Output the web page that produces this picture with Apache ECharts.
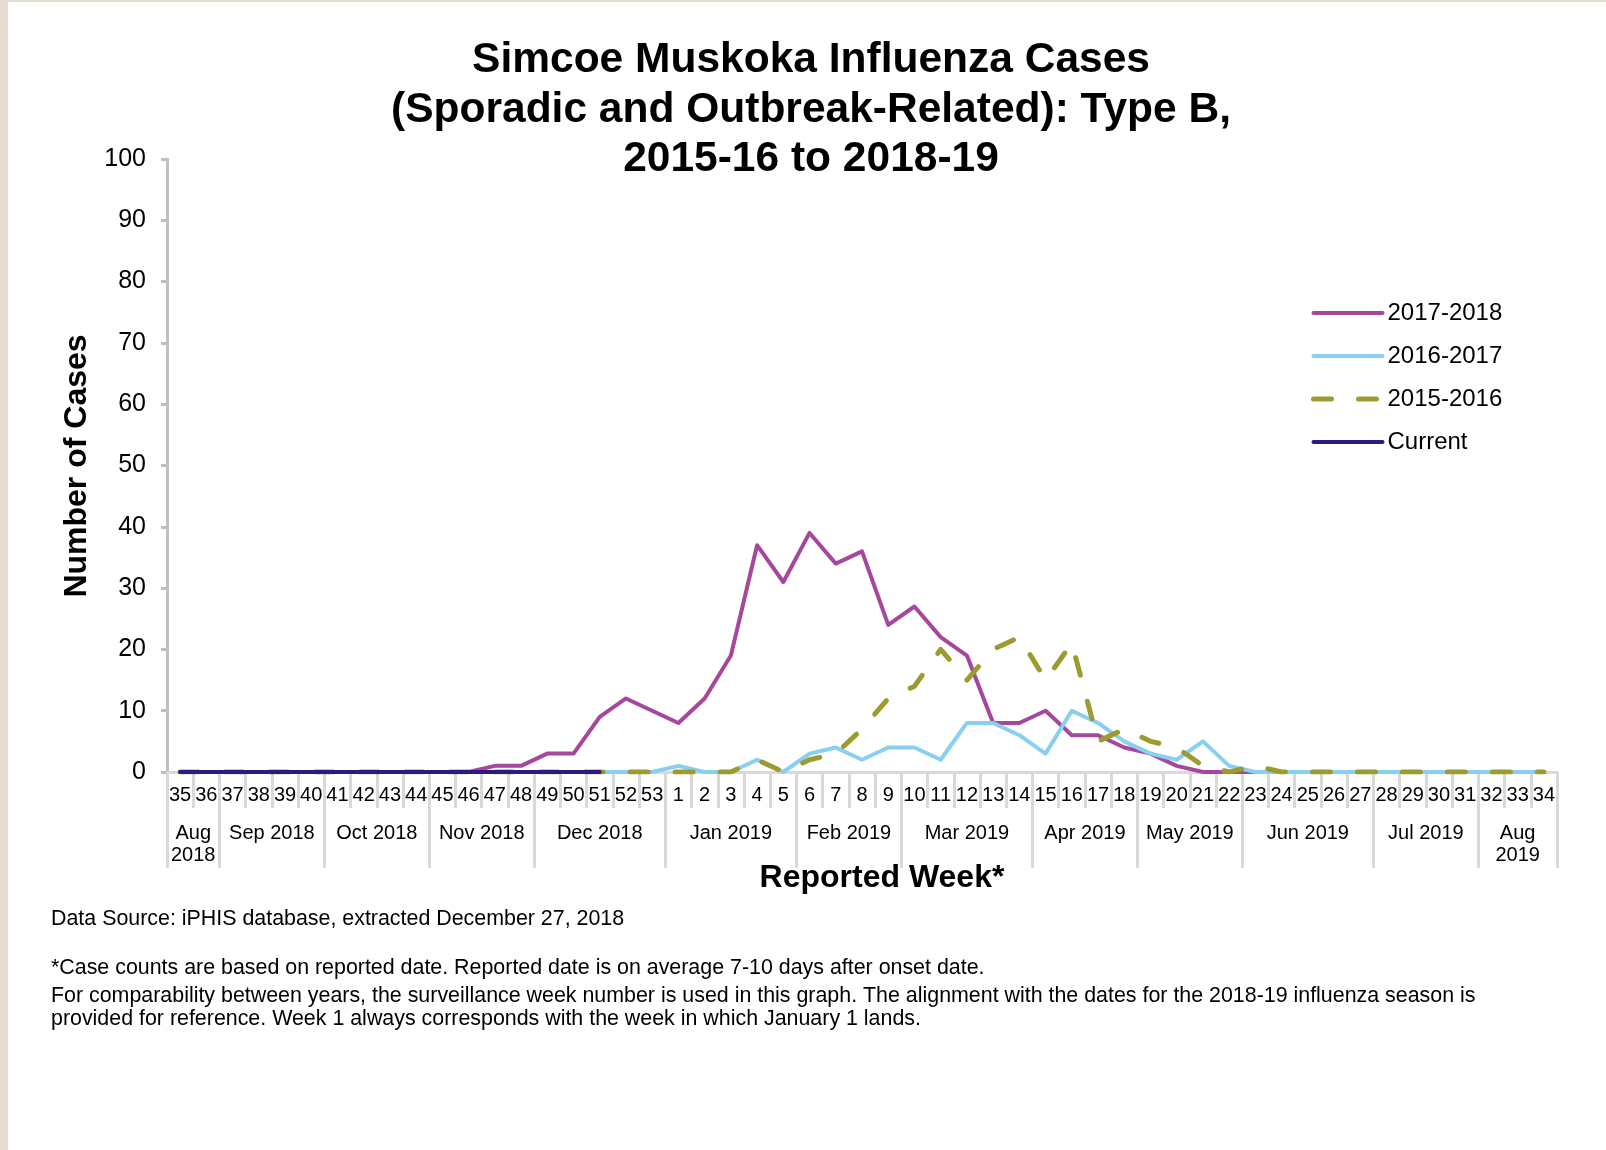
<!DOCTYPE html>
<html><head><meta charset="utf-8">
<script src="https://cdn.jsdelivr.net/npm/echarts@6/dist/echarts.min.js"></script>
<style>html,body{margin:0;padding:0;background:#fff}#c{width:1606px;height:1150px}</style>
</head><body><div id="c"></div>
<script>
// ---- data ----
const weekLabels = ['35','36','37','38','39','40','41','42','43','44','45','46','47','48','49','50','51','52','53',
  '1','2','3','4','5','6','7','8','9','10','11','12','13','14','15','16','17','18','19','20','21','22','23','24','25','26','27','28','29','30','31','32','33','34'];
const monthLabels = ['Aug\n2018','Sep 2018','Oct 2018','Nov 2018','Dec 2018','Jan 2019','Feb 2019','Mar 2019','Apr 2019','May 2019','Jun 2019','Jul 2019','Aug\n2019'];
const monthWeekCounts = [2,4,4,4,5,5,4,5,4,4,5,4,3];
const seriesNames = ['2017-2018','2016-2017','2015-2016','Current'];
const cases2017_18 = [0,0,0,0,0,0,0,0,0,0,0,0,1,1,3,3,9,12,10,
  8,12,19,37,31,39,34,36,24,27,22,19,8,8,10,6,6,4,3,1,0,0,0,0,0,0,0,0,0,0,0,0,0,0];
const cases2016_17 = [0,0,0,0,0,0,0,0,0,0,0,0,0,0,0,0,0,0,0,
  1,0,0,2,0,3,4,2,4,4,2,8,8,6,3,10,8,5,3,2,5,1,0,0,0,0,0,0,0,0,0,0,0,0];
const cases2015_16 = [0,0,0,0,0,0,0,0,0,0,0,0,0,0,0,0,0,0,0,
  0,0,0,2,0,2,3,7,12,14,20,15,20,22,15,21,5,7,5,4,1,0,1,0,0,0,0,0,0,0,0,0,0,0];
const casesCurrent = [0,0,0,0,0,0,0,0,0,0,0,0,0,0,0,0,0];
const yTicks = {min: 0, max: 100, step: 10};
const footnotes = [
  'Data Source: iPHIS database, extracted December 27, 2018',
  '*Case counts are based on reported date. Reported date is on average 7-10 days after onset date.',
  'For comparability between years, the surveillance week number is used in this graph. The alignment with the dates for the 2018-19 influenza season is',
  'provided for reference. Week 1 always corresponds with the week in which January 1 lands.'
];
const titleLines = ['Simcoe Muskoka Influenza Cases','(Sporadic and Outbreak-Related): Type B,','2015-16 to 2018-19'];

// ---- month axis built on half-week slots ----
const monthAxisData = new Array(weekLabels.length * 2 + 1).fill('');
const monthBounds = new Set([0]);
let acc = 0;
monthLabels.forEach((m, i) => {
  const start = acc; acc += monthWeekCounts[i];
  monthBounds.add(2 * acc);
  monthAxisData[start + acc] = m;
});

const FONT = "'Liberation Sans', Arial, sans-serif";
const GRAY = '#d9d9d9';
const colors = ['#a6479d', '#89cff0', '#9b9b30', '#2e1a7e'];
const widths = [4, 4, 5, 4];
const types = ['solid', 'solid', [18, 27], 'solid'];

const chart = echarts.init(document.getElementById('c'), null, {renderer: 'canvas'});
const graphics = [
  {type: 'rect', shape: {x: 0, y: 0, width: 8, height: 1150}, style: {fill: '#e6dbcf'}, silent: true},
  {type: 'rect', shape: {x: 0, y: 0, width: 1606, height: 2}, style: {fill: '#e6dbcf'}, silent: true}
];
const titleY = [60.5, 110, 159.5];
titleLines.forEach((t, i) => graphics.push({type: 'text', x: 811, y: titleY[i],
  style: {text: t, font: "bold 42.5px " + FONT, fill: '#000', textAlign: 'center', textVerticalAlign: 'middle'}}));
graphics.push({type: 'text', x: 77, y: 466, rotation: Math.PI / 2,
  style: {text: 'Number of Cases', font: "bold 32px " + FONT, fill: '#000', textAlign: 'center', textVerticalAlign: 'middle'}});
graphics.push({type: 'text', x: 882, y: 878.5,
  style: {text: 'Reported Week*', font: "bold 32px " + FONT, fill: '#000', textAlign: 'center', textVerticalAlign: 'middle'}});
const footY = [919.5, 968, 996.5, 1019];
footnotes.forEach((t, i) => graphics.push({type: 'text', x: 51, y: footY[i],
  style: {text: t, font: "21.4px " + FONT, fill: '#000', textAlign: 'left', textVerticalAlign: 'middle'}}));

const mkLine = (i, data) => ({
  name: seriesNames[i], type: 'line', data, symbol: 'none', showSymbol: false, smooth: false,
  lineStyle: {color: colors[i], width: widths[i], type: types[i], cap: 'round', join: 'round'},
  itemStyle: {color: colors[i]}, emphasis: {disabled: true}, silent: true, xAxisIndex: 0, yAxisIndex: 0
});

chart.setOption({
  animation: false,
  backgroundColor: '#fff',
  textStyle: {fontFamily: FONT},
  grid: {left: 167, right: 49, top: 159, bottom: 378, containLabel: false},
  legend: {
    orient: 'vertical', left: 1311, top: 301, padding: 0,
    itemWidth: 69, itemHeight: 23, itemGap: 19,
    data: seriesNames.map((n, i) => ({
      name: n,
      itemStyle: {opacity: 0},
      lineStyle: {width: widths[i], type: types[i], color: colors[i], cap: 'round'}
    })),
    textStyle: {fontSize: 24, color: '#000', fontFamily: FONT},
    selectedMode: false
  },
  xAxis: [
    {
      type: 'category', data: weekLabels, boundaryGap: true, position: 'bottom',
      axisLine: {show: true, lineStyle: {color: GRAY, width: 3}},
      axisTick: {show: true, interval: 0, length: 36, lineStyle: {color: GRAY, width: 3}},
      axisLabel: {interval: 0, margin: 13, fontSize: 20, color: '#000', fontFamily: FONT},
      splitLine: {show: false}
    },
    {
      type: 'category', data: monthAxisData, boundaryGap: false, position: 'bottom',
      axisLine: {show: false},
      axisTick: {show: true, length: 96, interval: (i) => monthBounds.has(i), lineStyle: {color: GRAY, width: 3}},
      axisLabel: {interval: (i, v) => v !== '', margin: 50, fontSize: 20, lineHeight: 22, color: '#000', fontFamily: FONT},
      splitLine: {show: false}
    }
  ],
  yAxis: {
    type: 'value', min: yTicks.min, max: yTicks.max, interval: yTicks.step,
    axisLine: {show: true, lineStyle: {color: '#bfbfbf', width: 3}},
    axisTick: {show: true, length: 6, lineStyle: {color: '#bfbfbf', width: 3}},
    axisLabel: {margin: 21, fontSize: 25, color: '#000', fontFamily: FONT},
    splitLine: {show: false}
  },
  series: [
    mkLine(0, cases2017_18),
    mkLine(1, cases2016_17),
    mkLine(2, cases2015_16),
    mkLine(3, casesCurrent)
  ],
  graphic: graphics
});
</script></body></html>
